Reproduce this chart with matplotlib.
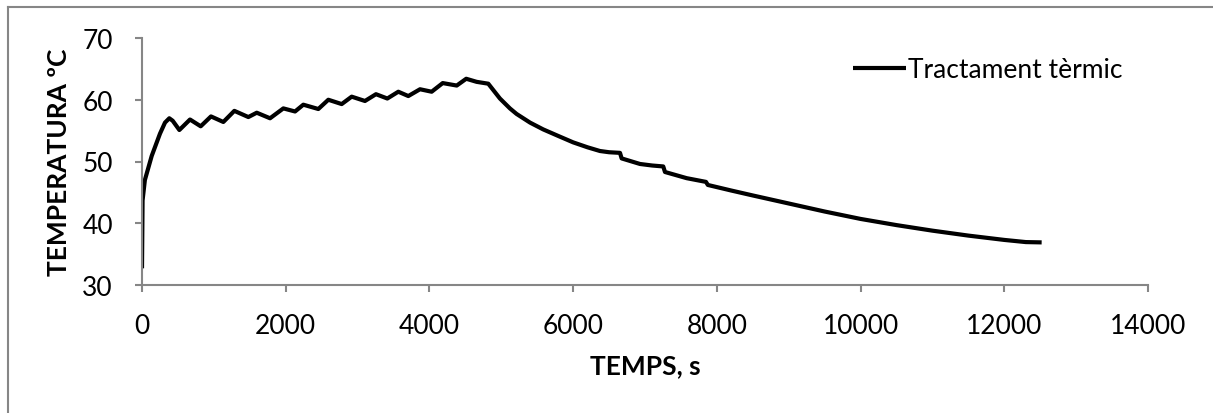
import matplotlib
matplotlib.use("Agg")
import matplotlib.pyplot as plt
from matplotlib.lines import Line2D

# Data
temps_s = [0, 8, 40, 135, 250, 320, 380, 427, 520, 668, 817, 960, 1132, 1285,
           1480, 1597, 1782, 1967, 2130, 2245, 2454, 2593, 2779, 2918, 3103,
           3256, 3414, 3567, 3706, 3869, 4031, 4185, 4380, 4512, 4657, 4819,
           4981, 5120, 5213, 5400, 5583, 5800, 6000, 6200, 6373, 6500, 6652,
           6675, 6930, 7100, 7254, 7278, 7580, 7848, 7875, 8200, 8500, 9000,
           9500, 10000, 10500, 11000, 11500, 12000, 12300, 12520]
temperatura = [32.7, 43.7, 47.0, 50.9, 54.5, 56.3, 57.0, 56.6, 55.1, 56.8, 55.7,
               57.3, 56.4, 58.2, 57.2, 57.9, 57.0, 58.6, 58.1, 59.2, 58.5, 60.0,
               59.3, 60.5, 59.8, 60.9, 60.2, 61.3, 60.6, 61.7, 61.3, 62.7, 62.3,
               63.4, 62.9, 62.6, 60.2, 58.6, 57.7, 56.3, 55.2, 54.1, 53.1, 52.3,
               51.7, 51.5, 51.4, 50.5, 49.6, 49.35, 49.2, 48.3, 47.3, 46.7, 46.2,
               45.3, 44.5, 43.2, 41.9, 40.7, 39.7, 38.8, 38.0, 37.3, 36.95, 36.9]
serie_label = "Tractament tèrmic"
x_ticks = [0, 2000, 4000, 6000, 8000, 10000, 12000, 14000]
y_ticks = [30, 40, 50, 60, 70]

plt.rcParams['font.family'] = ['Lato', 'DejaVu Sans']

fig = plt.figure(figsize=(12.13, 4.14), dpi=100)
W, H = 1213, 414
ax = fig.add_axes([142 / W, (414 - 286) / H, (1148 - 142) / W, (286 - 39) / H])

ax.plot(temps_s, temperatura, color='black', lw=3.0, solid_joinstyle='round',
        solid_capstyle='butt', label=serie_label)

ax.set_xlim(0, 14000)
ax.set_ylim(30, 70)
ax.set_xticks(x_ticks)
ax.set_yticks(y_ticks)
ax.set_xticklabels([str(v) for v in x_ticks])
ax.set_yticklabels([str(v) for v in y_ticks])

spine_col = '#868686'
for s in ['top', 'right']:
    ax.spines[s].set_visible(False)
for s in ['left', 'bottom']:
    ax.spines[s].set_color(spine_col)
    ax.spines[s].set_linewidth(1.5)
ax.tick_params(axis='both', direction='out', length=5, width=1.5, color=spine_col,
               labelsize=19, labelcolor='black')
ax.tick_params(axis='x', pad=15)
ax.tick_params(axis='y', pad=16)

ax.set_xlabel("TEMPS, s", fontsize=19, fontweight='bold', labelpad=11)
ax.set_ylabel("TEMPERATURA ºC", fontsize=19, fontweight='bold', labelpad=8)

leg = ax.legend(loc='upper left', bbox_to_anchor=((853 - 142) / (1148 - 142), (286 - 58) / (286 - 39)),
                frameon=False, fontsize=19, handlelength=2.0, handletextpad=0.1,
                borderaxespad=0, borderpad=0)

# outer chart frame (left and top edges visible)
fig.add_artist(Line2D([8 / W, 8 / W], [0, 1 - 8 / H], color=spine_col, lw=1.5,
                      transform=fig.transFigure))
fig.add_artist(Line2D([8 / W, 1], [1 - 8 / H, 1 - 8 / H], color=spine_col, lw=1.5,
                      transform=fig.transFigure))

fig.savefig("out.png", dpi=100, facecolor='white')
